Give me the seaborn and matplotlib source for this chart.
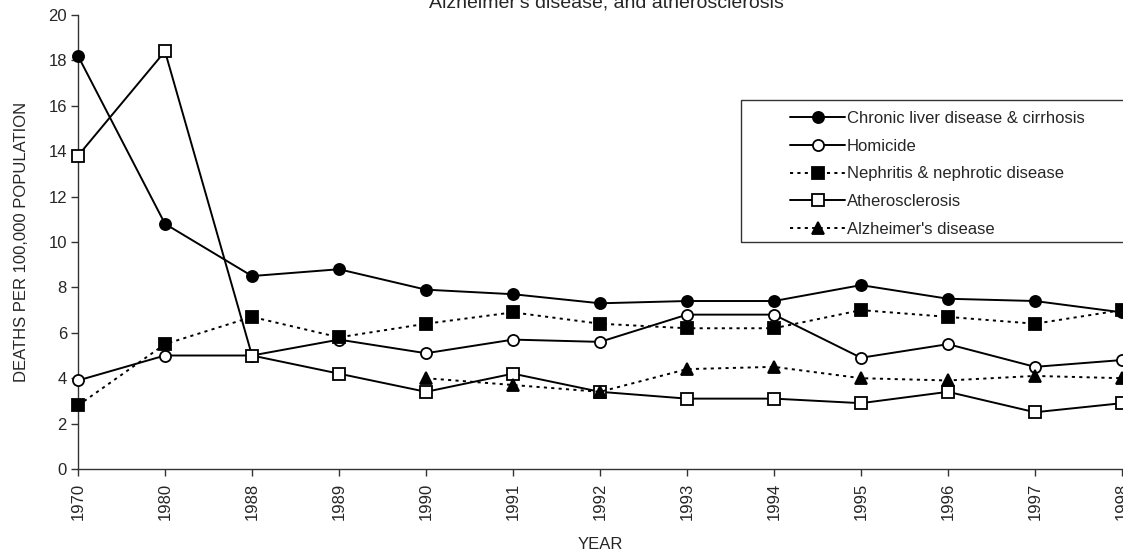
import numpy as np
import pandas as pd
import matplotlib
matplotlib.use("Agg")
import matplotlib.pyplot as plt
from matplotlib.patches import Rectangle
import seaborn as sns

years = ["1970", "1980", "1988", "1989", "1990", "1991", "1992",
         "1993", "1994", "1995", "1996", "1997", "1998"]

liver = [18.2, 10.8, 8.5, 8.8, 7.9, 7.7, 7.3, 7.4, 7.4, 8.1, 7.5, 7.4, 6.9]
homicide = [3.9, 5.0, 5.0, 5.7, 5.1, 5.7, 5.6, 6.8, 6.8, 4.9, 5.5, 4.5, 4.8]
nephritis = [2.8, 5.5, 6.7, 5.8, 6.4, 6.9, 6.4, 6.2, 6.2, 7.0, 6.7, 6.4, 7.0]
athero = [13.8, 18.4, 5.0, 4.2, 3.4, 4.2, 3.4, 3.1, 3.1, 2.9, 3.4, 2.5, 2.9]
alzheimer = [np.nan, np.nan, np.nan, np.nan, 4.0, 3.7, 3.4, 4.4, 4.5, 4.0, 3.9, 4.1, 4.0]

labels = ["Chronic liver disease & cirrhosis", "Homicide",
          "Nephritis & nephrotic disease", "Atherosclerosis",
          "Alzheimer's disease"]

sns.set_theme(style="white")
plt.rcParams["font.family"] = ["Liberation Sans", "DejaVu Sans"]

fig = plt.figure(figsize=(11.23, 5.55), dpi=100)
ax = fig.add_axes([78 / 1123, 86 / 555, 1044 / 1123, 454 / 555])

x = np.arange(len(years))
dotted = (0, (1.6, 2.2))
styles = [
    dict(marker="o", mfc="black", ls="-", ms=8),
    dict(marker="o", mfc="white", ls="-", ms=8),
    dict(marker="s", mfc="black", ls=dotted, ms=8.5),
    dict(marker="s", mfc="white", ls="-", ms=8.5),
    dict(marker="^", mfc="black", ls=dotted, ms=8.5),
]
series = [liver, homicide, nephritis, athero, alzheimer]

for vals, lab, st in zip(series, labels, styles):
    df = pd.DataFrame({"x": x, "y": vals}).dropna()
    sns.lineplot(data=df, x="x", y="y", ax=ax, color="black", lw=1.4,
                 marker=st["marker"], markersize=st["ms"],
                 markerfacecolor=st["mfc"], markeredgecolor="black",
                 markeredgewidth=1.3, linestyle=st["ls"], label=lab,
                 clip_on=False, zorder=3)

handles, labs = ax.get_legend_handles_labels()
if ax.get_legend() is not None:
    ax.get_legend().remove()

ax.set_xlim(0, 12)
ax.set_ylim(0, 20)
ax.set_xticks(x)
ax.set_xticklabels(years, rotation=90, fontsize=12)
ax.set_yticks(np.arange(0, 21, 2))
ax.tick_params(axis="y", labelsize=12, direction="out", length=5,
               width=1, color="#333333", left=True, pad=3)
ax.tick_params(axis="x", direction="out", length=5, width=1,
               color="#333333", bottom=True, pad=5)
for s in ["top", "right"]:
    ax.spines[s].set_visible(False)
for s in ["left", "bottom"]:
    ax.spines[s].set_color("#333333")
    ax.spines[s].set_linewidth(1)

ax.set_xlabel("YEAR", fontsize=12, labelpad=12)
ax.set_ylabel("DEATHS PER 100,000 POPULATION", fontsize=12, labelpad=14)
ax.grid(False)

fig.text(606 / 1123, 1 - 7 / 555, "Alzheimer's disease, and atherosclerosis",
         ha="center", va="baseline", fontsize=14)

leg = fig.legend(handles, labs, loc="upper left",
                 bbox_to_anchor=(790 / 1123, 1 - 111 / 555),
                 frameon=False, fontsize=12, handlelength=3.3,
                 handletextpad=0.1, labelspacing=0.76, borderpad=0,
                 borderaxespad=0)
fig.add_artist(Rectangle((741 / 1123, 1 - 242 / 555), 400 / 1123, 142 / 555,
                         transform=fig.transFigure, fill=False,
                         edgecolor="#333333", lw=1, clip_on=False))

fig.savefig("out.png", dpi=100, facecolor="white")
